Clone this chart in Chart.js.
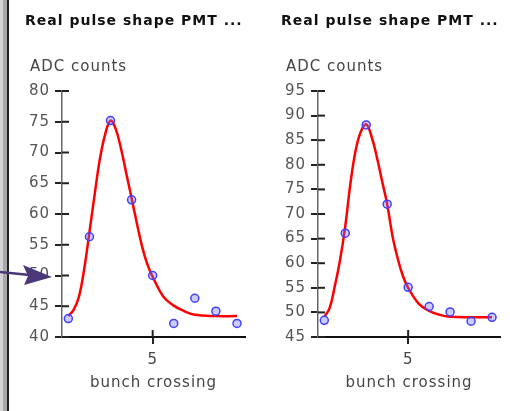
<!DOCTYPE html>
<html>
<head>
<meta charset="utf-8">
<script src="https://cdn.jsdelivr.net/npm/chart.js@4.4.1/dist/chart.umd.min.js"></script>
<style>
    body { margin: 0; background: #fff; width: 510px; height: 411px; position: relative; overflow: hidden; }
    .marco { position: absolute; top: 0; height: 411px; }
    #marcoGris { left: 0; width: 4px; background: #a8a8a8; border-left: 3px solid #d4d4d4; }
    #marcoNegro { left: 7px; width: 2px; background: #222; }
    #pulsoA { position: absolute; left: 10px; top: 0; }
    #pulsoB { position: absolute; left: 266px; top: 0; }
    #flecha { position: absolute; left: 0; top: 0; }
</style>
</head>
<body>
<div class="marco" id="marcoGris"></div>
<div class="marco" id="marcoNegro"></div>
<canvas id="pulsoA" width="245" height="411"></canvas>
<canvas id="pulsoB" width="244" height="411"></canvas>
<svg id="flecha" width="60" height="300">
    <polyline points="0,272 30,275" stroke="#4a3878" stroke-width="2.5" fill="none"/>
    <polygon points="23,265 52,277 24,285 28,276" fill="#4a3878"/>
</svg>
<script>
// datos
const cruces = [1, 2, 3, 4, 5, 6, 7, 8, 9];
const adcPmtA = [43.0, 56.3, 75.2, 62.3, 50.0, 42.2, 46.3, 44.2, 42.2];
const adcPmtB = [48.4, 66.1, 88.1, 72.0, 55.1, 51.2, 50.1, 48.2, 49.0];

// curva de ajuste (roja), leida punto a punto
const ajusteX = [1, 1.25, 1.5, 1.75, 2, 2.25, 2.5, 2.75, 3, 3.25, 3.5, 3.75, 4, 4.25, 4.5, 4.75, 5, 5.5, 6, 6.5, 7, 8, 9];
const ajustePmtA = [43.4, 44.4, 46.5, 51.0, 57.0, 63.2, 69.0, 73.0, 75.2, 73.8, 70.6, 66.6, 62.6, 58.5, 54.7, 51.8, 49.8, 46.6, 45.1, 44.2, 43.6, 43.4, 43.4];
const ajustePmtB = [49.1, 50.8, 55.3, 60.6, 67.5, 76.3, 83.0, 86.8, 88.2, 85.8, 81.7, 76.8, 72.0, 65.6, 61.0, 57.4, 55.0, 51.8, 50.3, 49.5, 49.1, 49.0, 49.0];

const tituloGrafico = 'Real pulse shape PMT ...';
const tituloY = 'ADC counts';
const tituloX = 'bunch crossing';
const marcaX = [5];

Chart.defaults.font.family = 'DejaVu Sans';

// marcas que cruzan el eje y texto "ADC counts"
const extrasEjes = {
    id: 'extrasEjes',
    beforeDraw(chart) {
        chart.ctx.letterSpacing = '1px';
    },
    afterDatasetsDraw(chart) {
        const ctx = chart.ctx;
        const area = chart.chartArea;
        const ejeY = chart.scales.y;
        const ejeX = chart.scales.x;
        ctx.save();
        ctx.strokeStyle = '#222';
        ctx.lineWidth = 2;
        ejeY.ticks.forEach(t => {
            const py = ejeY.getPixelForValue(t.value);
            ctx.beginPath();
            ctx.moveTo(area.left, py);
            ctx.lineTo(area.left + 7, py);
            ctx.stroke();
        });
        ejeX.ticks.forEach(t => {
            const px = ejeX.getPixelForValue(t.value);
            ctx.beginPath();
            ctx.moveTo(px, area.bottom);
            ctx.lineTo(px, area.bottom - 7);
            ctx.stroke();
        });
        ctx.fillStyle = '#444';
        ctx.font = '15px "DejaVu Sans"';
        ctx.textAlign = 'left';
        ctx.textBaseline = 'middle';
        ctx.fillText(tituloY, area.left - 32, 67);
        ctx.restore();
    }
};

function crearPulso(id, valores, ajuste, yMin, yMax) {
    const ctx = document.getElementById(id).getContext('2d');
    return new Chart(ctx, {
        type: 'scatter',
        data: {
            datasets: [{
                label: 'datos',
                data: cruces.map((c, i) => ({ x: c, y: valores[i] })),
                pointRadius: 4,
                pointBorderWidth: 1.5,
                borderColor: '#4040ff',
                backgroundColor: 'rgba(110,110,255,0.35)',
                order: 0
            }, {
                label: 'ajuste',
                data: ajusteX.map((c, i) => ({ x: c, y: ajuste[i] })),
                showLine: true,
                pointRadius: 0,
                borderColor: '#ff0000',
                borderWidth: 2.5,
                tension: 0.4,
                order: 1
            }]
        },
        options: {
            responsive: false,
            animation: false,
            layout: { padding: { left: 15, right: 10, top: 0, bottom: 0 } },
            plugins: {
                legend: { display: false },
                tooltip: { enabled: false },
                title: {
                    display: true,
                    text: tituloGrafico,
                    align: 'start',
                    color: '#111',
                    font: { size: 14, weight: 'bold' },
                    padding: { top: 13, bottom: 61.2 }
                }
            },
            scales: {
                x: {
                    type: 'linear',
                    min: 0.7,
                    max: 9.38,
                    afterBuildTicks: scale => { scale.ticks = marcaX.map(v => ({ value: v })); },
                    afterFit: scale => { scale.height = 74; },
                    grid: { drawOnChartArea: false, tickLength: 7, color: '#222', lineWidth: 2 },
                    border: { color: '#111', width: 2 },
                    ticks: { color: '#444', font: { size: 15 }, padding: 7 },
                    title: {
                        display: true,
                        text: tituloX,
                        color: '#444',
                        font: { size: 15 },
                        padding: { top: 4, bottom: 18.5 }
                    }
                },
                y: {
                    min: yMin,
                    max: yMax,
                    afterFit: scale => { scale.width = 37; },
                    grid: { drawOnChartArea: false, tickLength: 7, color: '#222', lineWidth: 2 },
                    border: { color: '#666', width: 1.5 },
                    ticks: { stepSize: 5, color: '#555', font: { size: 15 }, padding: 5 }
                }
            }
        },
        plugins: [extrasEjes]
    });
}

document.addEventListener('DOMContentLoaded', function() {
    const pulsoA = crearPulso('pulsoA', adcPmtA, ajustePmtA, 40, 80);
    const pulsoB = crearPulso('pulsoB', adcPmtB, ajustePmtB, 45, 95);
});
</script>
</body>
</html>
